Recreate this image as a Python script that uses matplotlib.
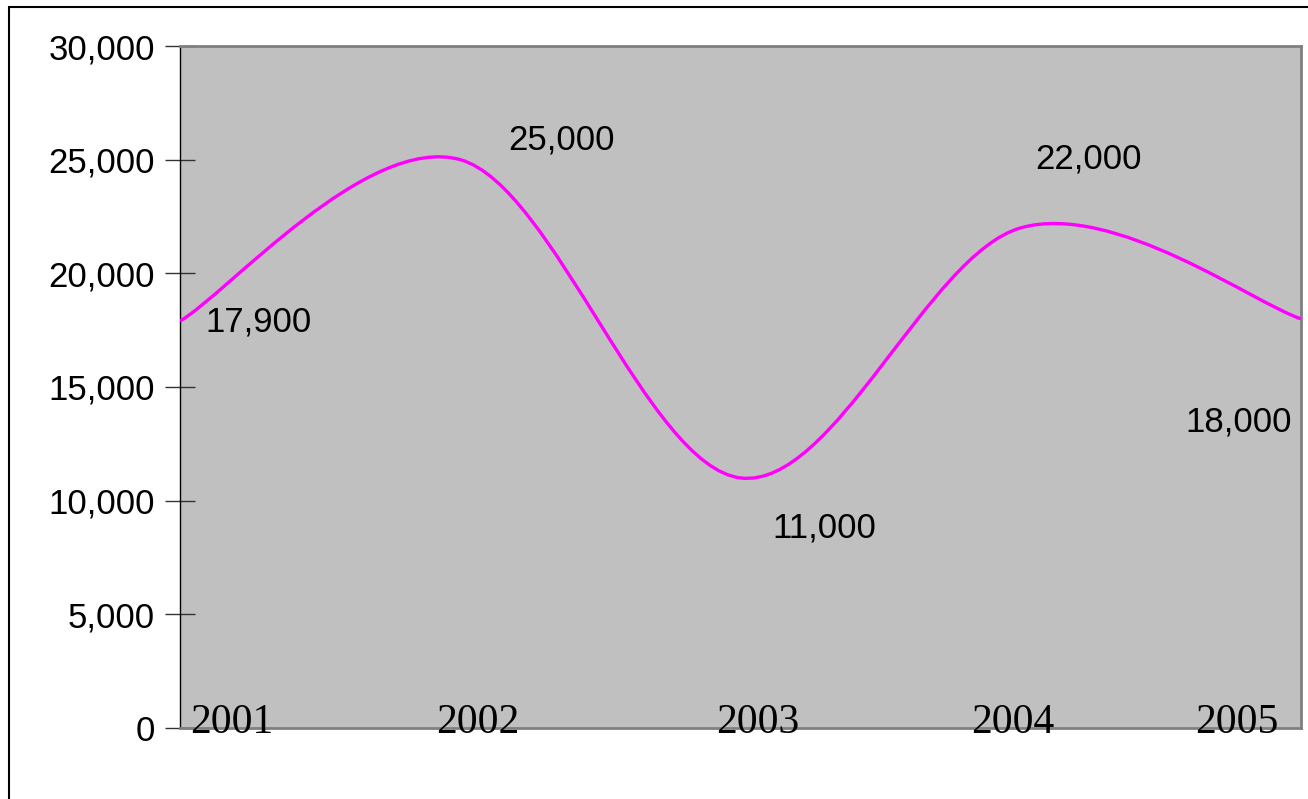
import numpy as np
import matplotlib
matplotlib.use('Agg')
import matplotlib.pyplot as plt
from matplotlib.path import Path
from matplotlib.patches import PathPatch, Rectangle

# Dados
anos = ['2001', '2002', '2003', '2004', '2005']
valores = [17900, 25000, 11000, 22000, 18000]
rotulos = ['17,900', '25,000', '11,000', '22,000', '18,000']

# Posicoes dos rotulos (x em indice de categoria, y em unidades do eixo)
rot_x = [0.279, 1.361, 2.300, 3.243, 3.779]
rot_y = [17850, 25870, 8800, 25030, 13460]
ano_x = [0.186, 1.064, 2.060, 2.970, 3.770]

fig = plt.figure(figsize=(13.08, 7.99), dpi=100)
ax = fig.add_axes([180/1308, 71/799, 1121/1308, 682/799])
ax.set_facecolor('#C0C0C0')

# Linha suavizada (bezier tipo Catmull-Rom, como no Excel)
x = np.arange(len(valores), dtype=float)
y = np.array(valores, dtype=float)
verts = [(x[0], y[0])]
codes = [Path.MOVETO]
n = len(x)
for i in range(n - 1):
    p0 = np.array([x[max(i - 1, 0)], y[max(i - 1, 0)]])
    p1 = np.array([x[i], y[i]])
    p2 = np.array([x[i + 1], y[i + 1]])
    p3 = np.array([x[min(i + 2, n - 1)], y[min(i + 2, n - 1)]])
    c1 = p1 + (p2 - p0) / 6
    c2 = p2 - (p3 - p1) / 6
    verts += [tuple(c1), tuple(c2), tuple(p2)]
    codes += [Path.CURVE4] * 3
ax.add_patch(PathPatch(Path(verts, codes), facecolor='none',
                       edgecolor='#FF00FF', lw=2.4, zorder=3))

ax.set_xlim(0, 4)
ax.set_ylim(0, 30000)
ax.set_xticks([])
ax.set_yticks(range(0, 30001, 5000))
ax.set_yticklabels([f'{v:,}' for v in range(0, 30001, 5000)],
                   fontsize=25, fontfamily='Liberation Sans')
ax.tick_params(axis='y', direction='inout', length=22, width=1,
               color='#333333', pad=7)

for s in ['top', 'right', 'bottom']:
    ax.spines[s].set_color('#808080')
    ax.spines[s].set_linewidth(2)
ax.spines['left'].set_color('black')
ax.spines['left'].set_linewidth(1)

# Rotulos de dados
for xi, yi, t in zip(rot_x, rot_y, rotulos):
    ax.text(xi, yi, t, ha='center', va='center', fontsize=25,
            fontfamily='Liberation Sans', color='black')

# Anos
for xi, t in zip(ano_x, anos):
    ax.text(xi, -220, t, ha='center', va='baseline', fontsize=30,
            fontfamily='Liberation Serif', color='black', clip_on=False)

# Moldura externa
fig.add_artist(Rectangle((9/1308, -0.1), 1.2, 1 - 7/799 + 0.1,
                         transform=fig.transFigure, fill=False,
                         edgecolor='black', lw=1.5))

fig.savefig('out.png', dpi=100)
